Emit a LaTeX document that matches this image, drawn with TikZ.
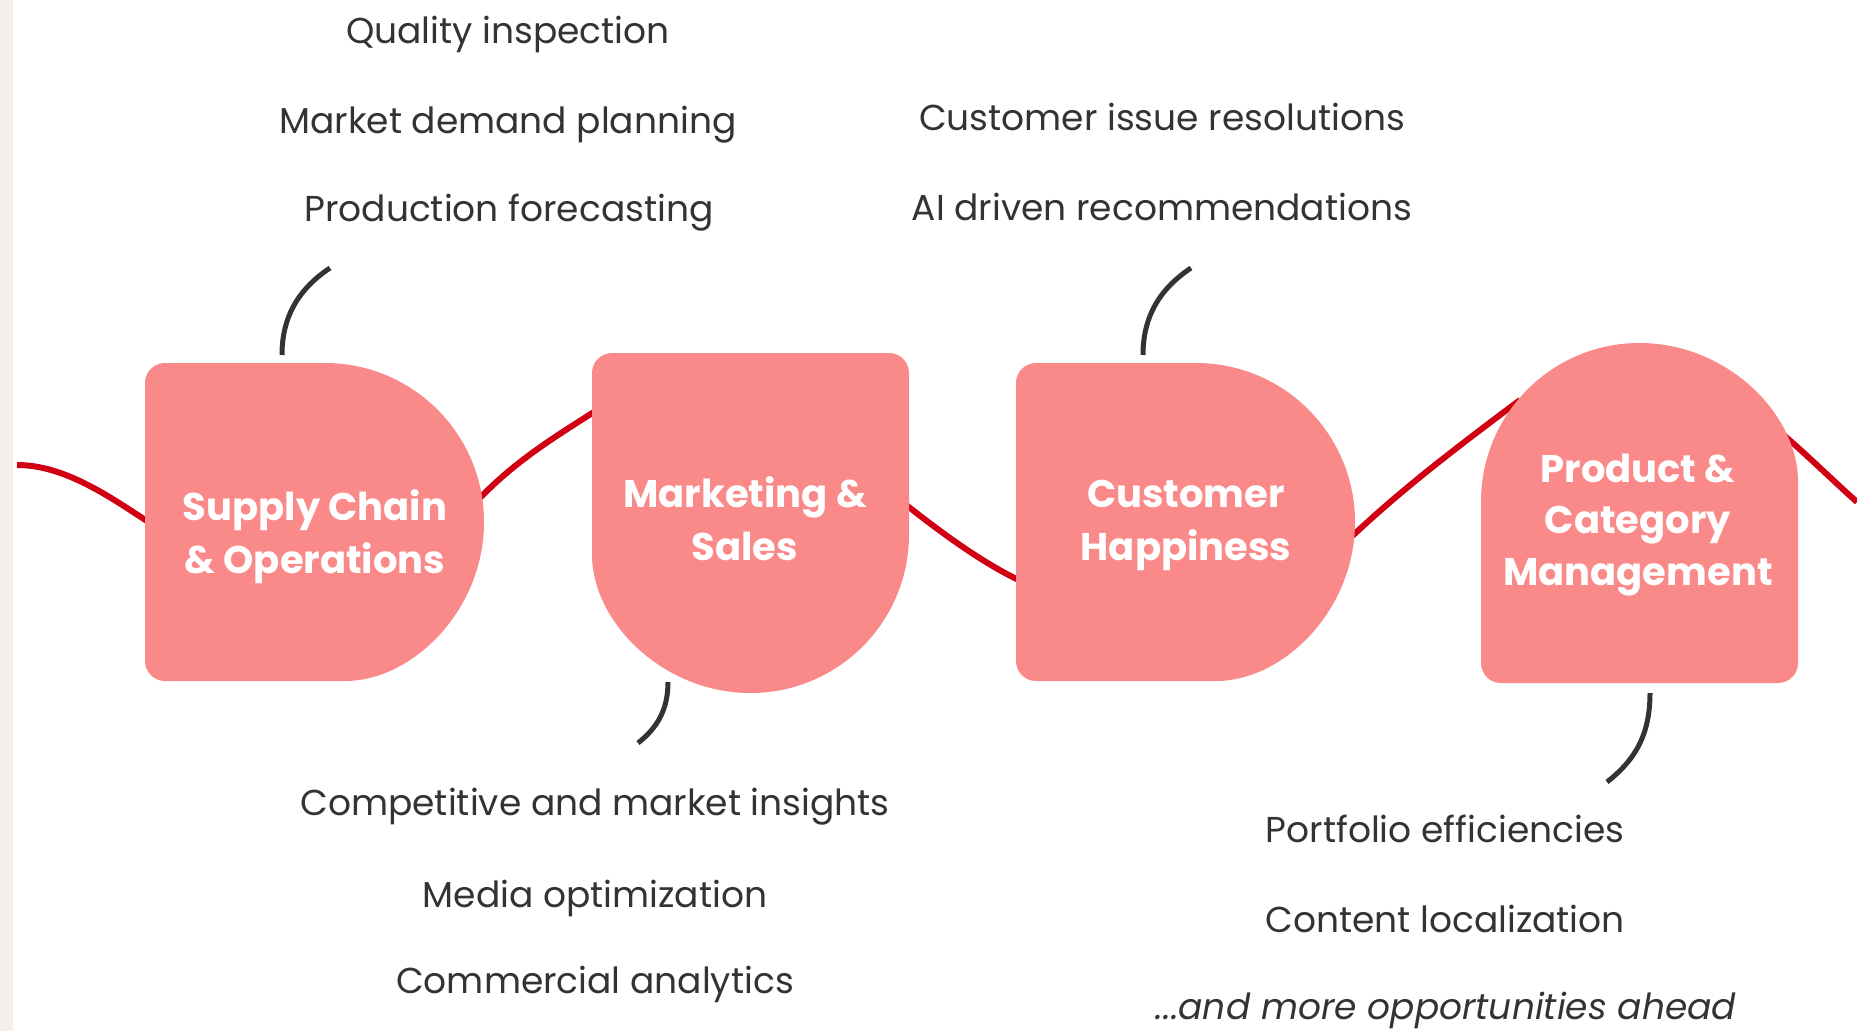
\documentclass[tikz,border=0pt]{standalone}
\usepackage{fontspec}
\setmainfont{Poppins}
\newfontfamily\bodyfont{Poppins}
\newfontfamily\headfont{Poppins}
\definecolor{wavered}{RGB}{208,0,18}
\definecolor{blobpink}{RGB}{250,138,138}
\definecolor{ink}{RGB}{51,51,51}
\definecolor{paper}{RGB}{243,240,235}
\newcommand{\titlestack}[1]{\begin{tabular}[t]{@{}c@{}}#1\end{tabular}}
\begin{document}
\begin{tikzpicture}[x=1pt,y=-1pt,
  wave/.style={draw=wavered,line width=6pt},
  leader/.style={draw=ink,line width=5pt},
  blob/.style={fill=blobpink},
  item/.style={anchor=base,inner sep=0pt,text=ink,font=\bodyfont\fontsize{36}{40}\selectfont},
  title/.style={anchor=base,inner sep=0pt,text=white,font=\headfont\bfseries\fontsize{38.5}{53}\selectfont}]

% canvas
\useasboundingbox (0,0) rectangle (1857,1031);
\fill[white] (0,0) rectangle (1857,1031);
\fill[paper] (0,0) rectangle (13,1031);

% wave anchor points
\coordinate (w0) at (17,465);
\coordinate (w1in) at (150,523);
\coordinate (w1out) at (478,500);
\coordinate (w2in) at (600,408);
\coordinate (w2out) at (900,500);
\coordinate (w3in) at (1025,583);
\coordinate (w3out) at (1345,543);
\coordinate (w4in) at (1520,400);
\coordinate (w4out) at (1775,428);
\coordinate (w5) at (1857,502);

% red wave running behind the shapes
\draw[wave] (w0) .. controls (65,465) and (110,497) .. (w1in);
\draw[wave] (w1out) .. controls (518,458) and (560,434) .. (w2in);
\draw[wave] (w2out) .. controls (940,532) and (985,565) .. (w3in);
\draw[wave] (w3out) .. controls (1400,490) and (1460,445) .. (w4in);
\draw[wave] (w4out) .. controls (1800,448) and (1830,478) .. (w5);

% shapes
\fill[blob, rounded corners=20pt] (325,363) -- (145,363) -- (145,681) -- (325,681) [sharp corners]
  .. controls (412.8,681) and (484,609.8) .. (484,522)
  .. controls (484,434.2) and (412.8,363) .. (325,363) -- cycle;
\fill[blob, rounded corners=20pt] (909,534.5) -- (909,353) -- (592,353) -- (592,534.5) [sharp corners]
  .. controls (592,622) and (663,693) .. (750.5,693)
  .. controls (838,693) and (909,622) .. (909,534.5) -- cycle;
\fill[blob, rounded corners=20pt] (1196,363) -- (1016,363) -- (1016,681) -- (1196,681) [sharp corners]
  .. controls (1283.8,681) and (1355,609.8) .. (1355,522)
  .. controls (1355,434.2) and (1283.8,363) .. (1196,363) -- cycle;
\fill[blob, rounded corners=20pt] (1481,501.5) -- (1481,683) -- (1798,683) -- (1798,501.5) [sharp corners]
  .. controls (1798,414) and (1727,343) .. (1639.5,343)
  .. controls (1552,343) and (1481,414) .. (1481,501.5) -- cycle;

% titles
\node[title] (supply) at (315,520) {\titlestack{Supply Chain\\\& Operations}};
\node[title] (marketing) at (745,507) {\titlestack{Marketing \&\\Sales}};
\node[title] (customer) at (1186,507) {\titlestack{Customer\\Happiness}};
\node[title,font=\headfont\bfseries\fontsize{38.5}{51.5}\selectfont] (product) at (1638,482) {\titlestack{Product \&\\Category\\Management}};

% item lists
\node[item] (quality) at (508,43) {Quality inspection};
\node[item] (demand) at (508,133) {Market demand planning};
\node[item] (forecast) at (509,221) {Production forecasting};

\node[item] (issues) at (1162,130) {Customer issue resolutions};
\node[item] (recs) at (1162,220) {AI driven recommendations};

\node[item] (compet) at (595,815) {Competitive and market insights};
\node[item] (media) at (595,907) {Media optimization};
\node[item] (commercial) at (595,993) {Commercial analytics};

\node[item] (portfolio) at (1445,842) {Portfolio efficiencies};
\node[item] (content) at (1445,932) {Content localization};
\node[item,font=\bodyfont\itshape\fontsize{36}{40}\selectfont] (more) at (1446,1019) {...and more opportunities ahead};

% leaders from shapes to their lists
\coordinate (l1a) at (282,355); \coordinate (l1b) at (330,268);
\coordinate (l2a) at (668,682); \coordinate (l2b) at (638,743);
\coordinate (l3a) at (1143,355); \coordinate (l3b) at (1191,268);
\coordinate (l4a) at (1650,693); \coordinate (l4b) at (1607,782);
\draw[leader] (l1a) .. controls (282,315) and (300,288) .. (l1b);
\draw[leader] (l2a) .. controls (668,710) and (657,728) .. (l2b);
\draw[leader] (l3a) .. controls (1143,315) and (1161,288) .. (l3b);
\draw[leader] (l4a) .. controls (1650,735) and (1635,760) .. (l4b);
\end{tikzpicture}
\end{document}
